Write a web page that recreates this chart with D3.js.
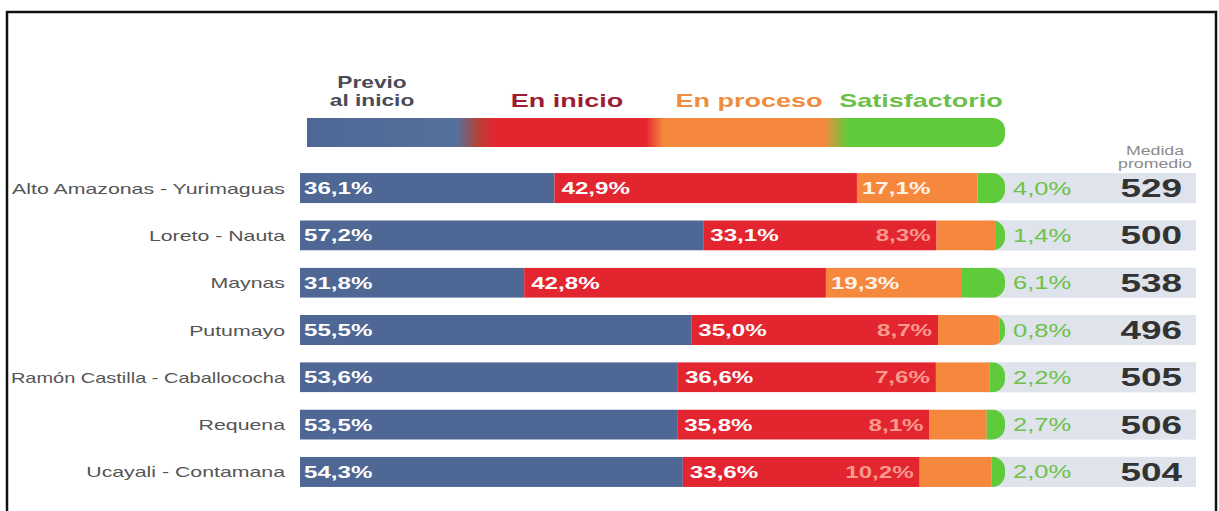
<!DOCTYPE html>
<html>
<head>
<meta charset="utf-8">
<script src="https://cdn.jsdelivr.net/npm/d3@7"></script>
<style>
  html, body { margin: 0; padding: 0; background: #fff; }
  svg { display: block; font-family: "Liberation Sans", Arial, sans-serif; }
</style>
</head>
<body>
<svg id="chart" width="1219" height="511"></svg>
<script>
const categories = ["Alto Amazonas - Yurimaguas", "Loreto - Nauta", "Maynas", "Putumayo",
  "Ramón Castilla - Caballococha", "Requena", "Ucayali - Contamana"];
const previo = [36.1, 57.2, 31.8, 55.5, 53.6, 53.5, 54.3];
const inicio = [42.9, 33.1, 42.8, 35.0, 36.6, 35.8, 33.6];
const proceso = [17.1, 8.3, 19.3, 8.7, 7.6, 8.1, 10.2];
const satisfactorio = [4.0, 1.4, 6.1, 0.8, 2.2, 2.7, 2.0];
const medida = [529, 500, 538, 496, 505, 506, 504];
const levelNames = ["Previo al inicio", "En inicio", "En proceso", "Satisfactorio"];
const medidaTitle = ["Medida", "promedio"];

const colors = ["#4e6794", "#e3252f", "#f6883e", "#5fcb3b"];
const legendColors = ["#4a4a58", "#9c1c33", "#ef8c3e", "#6cbf48"];
const SX = 1.42;

const svg = d3.select("#chart");
const fmt = v => d3.format(".1f")(v).replace(".", ",") + "%";

function stext(parent, x, y, str, sx = SX) {
  return parent.append("text")
    .attr("transform", `translate(${x},${y}) scale(${sx},1)`)
    .text(str);
}

const x = d3.scaleLinear().domain([0, 100]).range([300, 1005]);
const y = d3.scaleBand().domain(categories).range([164.5, 495.5]).paddingInner(0.362).paddingOuter(0.181);

const rows = categories.map((c, i) => {
  const vals = [previo[i], inicio[i], proceso[i], satisfactorio[i]];
  let acc = 0;
  const segs = vals.map((v, k) => { const s = { k, v, x0: acc, x1: acc + v }; acc += v; return s; });
  return { c, i, segs };
});

// defs
const defs = svg.append("defs");
const grad = defs.append("linearGradient").attr("id", "lg").attr("x1", "0%").attr("x2", "100%");
[[0, colors[0]], [0.215, "#56709c"], [0.245, "#b54236"], [0.27, colors[1]], [0.485, colors[1]],
 [0.51, colors[2]], [0.74, colors[2]], [0.775, colors[3]], [1, colors[3]]]
  .forEach(([o, c]) => grad.append("stop").attr("offset", o).attr("stop-color", c));

// Legend
const lg = svg.append("g");
const legY = 101;
const nm0 = levelNames[0].split(" ");
stext(lg, 372, 87.5, nm0[0]).attr("font-size", 16).attr("font-weight", "bold")
  .attr("fill", legendColors[0]).attr("text-anchor", "middle");
stext(lg, 372, 106, nm0.slice(1).join(" ")).attr("font-size", 16).attr("font-weight", "bold")
  .attr("fill", legendColors[0]).attr("text-anchor", "middle");
const legX = [null, 567, 749, 921];
for (let k = 1; k < 4; k++) {
  stext(lg, legX[k], legY + 6, levelNames[k]).attr("font-size", 19).attr("font-weight", "bold")
    .attr("fill", legendColors[k]).attr("text-anchor", "middle");
}
defs.append("clipPath").attr("id", "legclip").append("rect")
  .attr("x", x(0) - 30).attr("y", 118).attr("width", x(100) - x(0) + 30).attr("height", 29).attr("rx", 12);
lg.append("rect").attr("clip-path", "url(#legclip)")
  .attr("x", x(0) + 7).attr("y", 118).attr("width", x(100) - x(0) - 7).attr("height", 29).attr("fill", "url(#lg)");

stext(lg, 1155, 155, medidaTitle[0]).attr("font-size", 12.5).attr("fill", "#8a8a8a").attr("text-anchor", "middle");
stext(lg, 1155, 168, medidaTitle[1]).attr("font-size", 12.5).attr("fill", "#8a8a8a").attr("text-anchor", "middle");

// Rows
const g = svg.append("g");
rows.forEach(r => {
  const top = y(r.c), h = y.bandwidth(), cy = top + h / 2;
  const rg = g.append("g");
  rg.append("rect").attr("x", x(100) - 20).attr("y", top).attr("width", 1196 - (x(100) - 20)).attr("height", h)
    .attr("fill", "#dfe3ec");
  const cid = "clip" + r.i;
  defs.append("clipPath").attr("id", cid).append("rect")
    .attr("x", x(0) - 30).attr("y", top).attr("width", x(100) - x(0) + 30).attr("height", h).attr("rx", 13);
  rg.append("g").attr("clip-path", `url(#${cid})`)
    .selectAll("rect").data(r.segs).join("rect")
    .attr("x", d => x(d.x0)).attr("y", top)
    .attr("width", d => Math.max(0, x(Math.min(d.x1 + (d.k === 3 ? 2 : 0), 102)) - x(d.x0)))
    .attr("height", h).attr("fill", d => colors[d.k]);

  const lab = stext(rg, 285, cy + 5.5, r.c).attr("font-size", 15).attr("fill", "#555").attr("text-anchor", "end");
  const w = lab.node().getComputedTextLength();
  const maxW = 285 - 11;
  if (w * SX > maxW) lab.attr("transform", `translate(285,${cy + 5.5}) scale(${maxW / w},1)`);

  const s = r.segs;
  stext(rg, x(s[0].x0) + 4, cy + 6, fmt(s[0].v)).attr("font-size", 17).attr("font-weight", "bold").attr("fill", "#fff");
  stext(rg, x(s[1].x0) + 7, cy + 6, fmt(s[1].v)).attr("font-size", 17).attr("font-weight", "bold").attr("fill", "#fff");
  if (s[2].v >= 12) {
    stext(rg, x(s[2].x0) + 5, cy + 6, fmt(s[2].v)).attr("font-size", 17).attr("font-weight", "bold").attr("fill", "#fff3ea");
  } else {
    stext(rg, x(s[2].x0) - 6, cy + 6, fmt(s[2].v)).attr("font-size", 17).attr("font-weight", "bold")
      .attr("fill", "#f99a8c").attr("text-anchor", "end");
  }
  stext(rg, x(100) + 8, cy + 6.5, fmt(s[3].v)).attr("font-size", 18).attr("fill", "#6cc24a");
  stext(rg, 1182, cy + 9, medida[r.i]).attr("font-size", 26).attr("font-weight", "bold").attr("fill", "#333")
    .attr("text-anchor", "end");
});

// Frame
svg.append("rect").attr("x", 7).attr("y", 12).attr("width", 1209).attr("height", 520)
  .attr("fill", "none").attr("stroke", "#111").attr("stroke-width", 2.5);
</script>
</body>
</html>
